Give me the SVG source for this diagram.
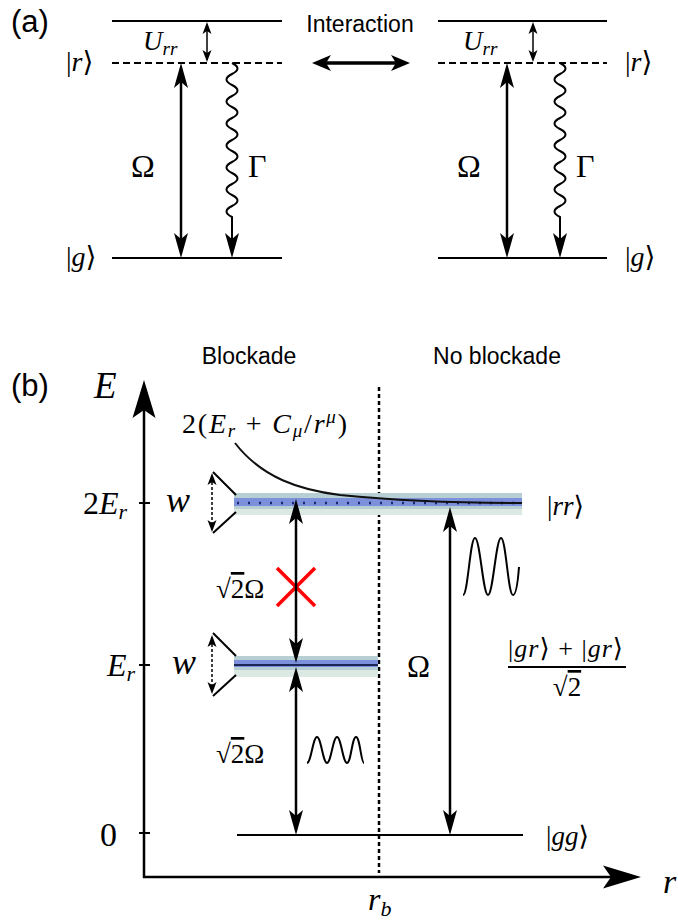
<svg xmlns="http://www.w3.org/2000/svg" width="678" height="922" viewBox="0 0 678 922">
<style>
.lbl{font-family:"Liberation Sans",Arial,sans-serif;fill:#000}
.m{font-family:"Liberation Serif","DejaVu Serif",serif;fill:#000}
.i{font-style:italic}
.lv{stroke:#000;stroke-width:2;fill:none}
.dash{stroke:#000;stroke-width:2;stroke-dasharray:7 4;fill:none}
.ar{stroke:#000;stroke-width:2.5;fill:none}
.thin{stroke:#000;stroke-width:1.5;fill:none}
.wave{stroke:#000;stroke-width:2;fill:none}
.dotar{stroke:#000;stroke-width:1.5;stroke-dasharray:3 2;fill:none}
</style>
<defs>
<marker id="big" markerUnits="userSpaceOnUse" markerWidth="40" markerHeight="26" refX="0" refY="0" orient="auto-start-reverse" overflow="visible">
<path d="M30,0 L-8,-11.5 L0,0 L-8,11.5 Z" fill="#000"/>
</marker>
<marker id="med" markerUnits="userSpaceOnUse" markerWidth="30" markerHeight="16" refX="0" refY="0" orient="auto-start-reverse" overflow="visible">
<path d="M19,0 L-6,-7 L0,0 L-6,7 Z" fill="#000"/>
</marker>
<marker id="thick" markerUnits="userSpaceOnUse" markerWidth="24" markerHeight="18" refX="0" refY="0" orient="auto-start-reverse" overflow="visible">
<path d="M14,0 L-5,-8 L0,0 L-5,8 Z" fill="#000"/>
</marker>
<marker id="sm" markerUnits="userSpaceOnUse" markerWidth="14" markerHeight="10" refX="0" refY="0" orient="auto-start-reverse" overflow="visible">
<path d="M9,0 L-3,-4.5 L0,0 L-3,4.5 Z" fill="#000"/>
</marker>
</defs>

<!-- Part (a) -->
<text class="lbl" x="11" y="32" font-size="31">(a)</text>

<g id="atom-left">
<line class="lv" x1="112" y1="21" x2="282" y2="21"/>
<line class="dash" x1="112" y1="63" x2="282" y2="63"/>
<line class="lv" x1="112" y1="258" x2="282" y2="258"/>
<text class="m" x="66" y="71" font-size="28">|<tspan class="i">r</tspan>⟩</text>
<text class="m" x="66" y="266" font-size="28">|<tspan class="i">g</tspan>⟩</text>
<text class="m" x="143" y="50" font-size="27"><tspan class="i">U</tspan><tspan class="i" font-size="19" dy="5">rr</tspan></text>
<text class="m" x="131" y="177" font-size="32" textLength="32">Ω</text>
<text class="m" x="248" y="177" font-size="32">Γ</text>
</g>

<g id="atom-right">
<line class="lv" x1="438" y1="21" x2="607" y2="21"/>
<line class="dash" x1="438" y1="63" x2="607" y2="63"/>
<line class="lv" x1="438" y1="258" x2="607" y2="258"/>
<text class="m" x="625" y="71" font-size="28">|<tspan class="i">r</tspan>⟩</text>
<text class="m" x="625" y="266" font-size="28">|<tspan class="i">g</tspan>⟩</text>
<text class="m" x="463" y="50" font-size="27"><tspan class="i">U</tspan><tspan class="i" font-size="19" dy="5">rr</tspan></text>
<text class="m" x="457" y="177" font-size="32" textLength="32">Ω</text>
<text class="m" x="576" y="177" font-size="32">Γ</text>
</g>

<g id="interaction">
<text class="lbl" x="360" y="32" text-anchor="middle" font-size="23">Interaction</text>
</g>

<!-- Part (b) -->
<text class="lbl" x="11" y="396" font-size="31">(b)</text>
<g id="region-labels">
<text class="lbl" x="249" y="364" text-anchor="middle" font-size="23">Blockade</text>
<text class="lbl" x="497" y="364" text-anchor="middle" font-size="23">No blockade</text>
</g>

<g id="axes">
<line class="ar" x1="144" y1="878" x2="144" y2="410" marker-end="url(#big)"/>
<line class="ar" x1="143" y1="877" x2="611" y2="877" marker-end="url(#big)"/>
<line class="lv" x1="139" y1="503" x2="150" y2="503"/>
<line class="lv" x1="139" y1="665" x2="150" y2="665"/>
<line class="lv" x1="139" y1="833" x2="150" y2="833"/>
<text class="m i" x="94" y="398" font-size="37">E</text>
<text class="m i" x="663" y="893" font-size="34">r</text>
<text class="m" x="83" y="514" font-size="32">2<tspan class="i">E</tspan><tspan class="i" font-size="22" dy="5">r</tspan></text>
<text class="m" x="107" y="676" font-size="32"><tspan class="i">E</tspan><tspan class="i" font-size="22" dy="5">r</tspan></text>
<text class="m" x="100" y="846" font-size="34">0</text>
</g>

<g id="blockade-radius">
<line stroke="#000" stroke-width="2.5" stroke-dasharray="4 3" x1="379" y1="387" x2="379" y2="873"/>
<text class="m" x="368" y="910" font-size="32"><tspan class="i">r</tspan><tspan class="i" font-size="22" dy="6">b</tspan></text>
</g>

<g id="band-rr">
<rect x="234" y="493" width="288" height="22" fill="#dce9e3"/>
<rect x="234" y="493" width="288" height="16" fill="#b7cfd3"/>
<rect x="234" y="498" width="288" height="8" fill="#7d90dc"/>
<line x1="237" y1="503" x2="522" y2="503" stroke="#1a2470" stroke-width="2.5" stroke-dasharray="2 9"/>
<line class="lv" x1="213" y1="472" x2="236" y2="495"/>
<line class="lv" x1="236" y1="512" x2="213" y2="533"/>
<line class="dotar" x1="212" y1="482" x2="212" y2="523" marker-start="url(#sm)" marker-end="url(#sm)"/>
<text class="m i" x="166" y="512" font-size="36">w</text>
<text class="m" x="547" y="515" font-size="27">|<tspan class="i">rr</tspan>⟩</text>
</g>

<g id="band-gr">
<rect x="234" y="656" width="144" height="21" fill="#dce9e3"/>
<rect x="234" y="656" width="144" height="14" fill="#b7cfd3"/>
<rect x="234" y="660" width="144" height="7" fill="#7d90dc"/>
<line x1="234" y1="665" x2="378" y2="665" stroke="#1c2757" stroke-width="2"/>
<line class="lv" x1="213" y1="633" x2="236" y2="656"/>
<line class="lv" x1="236" y1="675" x2="213" y2="696"/>
<line class="dotar" x1="212" y1="644" x2="212" y2="685" marker-start="url(#sm)" marker-end="url(#sm)"/>
<text class="m i" x="172" y="674" font-size="36">w</text>
</g>

<g id="level-gg">
<line class="lv" x1="237" y1="835" x2="523" y2="835"/>
<text class="m" x="546" y="845" font-size="27" textLength="43">|<tspan class="i">gg</tspan>⟩</text>
</g>

<g id="potential">
<path d="M235,443 C262,478 300,490 340,495 C400,501 470,503 522,503" stroke="#111" stroke-width="2" fill="none"/>
<text class="m" x="182" y="433" font-size="28" textLength="165">2(<tspan class="i">E</tspan><tspan class="i" font-size="19" dy="4">r</tspan><tspan dy="-4"> + </tspan><tspan class="i">C</tspan><tspan class="i" font-size="19" dy="4">μ</tspan><tspan dy="-4">/</tspan><tspan class="i">r</tspan><tspan class="i" font-size="19" dy="-10">μ</tspan><tspan dy="10">)</tspan></text>
</g>

<g id="transition-labels">
<text class="m" x="216" y="598" font-size="27">√<tspan text-decoration="overline">2</tspan>Ω</text>
<text class="m" x="216" y="763" font-size="27">√<tspan text-decoration="overline">2</tspan>Ω</text>
<text class="m" x="407" y="677" font-size="31" fill="#161c4d" textLength="26">Ω</text>
<text class="m" x="508" y="657" font-size="26" textLength="115">|<tspan class="i">gr</tspan>⟩ + |<tspan class="i">gr</tspan>⟩</text>
<line class="lv" x1="508" y1="667" x2="626" y2="667"/>
<text class="m" x="567" y="696" font-size="27" text-anchor="middle">√<tspan text-decoration="overline">2</tspan></text>
</g>

<g id="blocked-mark">
<line x1="277" y1="568" x2="315" y2="606" stroke="#ff0000" stroke-width="3.5"/>
<line x1="315" y1="568" x2="277" y2="606" stroke="#ff0000" stroke-width="3.5"/>
</g>

<g id="connectors">
<!-- (a) -->
<line class="ar" x1="181" y1="82" x2="181" y2="239" marker-start="url(#med)" marker-end="url(#med)"/>
<path class="wave" d="M232,63 q11,5.5 0,11 t0,11 t0,11 t0,11 t0,11 t0,11 t0,11 t0,11 t0,11 t0,11 t0,11 t0,11 t0,11 t0,11 L232,239" marker-end="url(#med)"/>
<line class="thin" x1="207" y1="31" x2="207" y2="53" marker-start="url(#sm)" marker-end="url(#sm)"/>
<line class="ar" x1="507" y1="82" x2="507" y2="239" marker-start="url(#med)" marker-end="url(#med)"/>
<path class="wave" d="M560,63 q11,5.5 0,11 t0,11 t0,11 t0,11 t0,11 t0,11 t0,11 t0,11 t0,11 t0,11 t0,11 t0,11 t0,11 t0,11 L560,239" marker-end="url(#med)"/>
<line class="thin" x1="533" y1="31" x2="533" y2="53" marker-start="url(#sm)" marker-end="url(#sm)"/>
<line stroke="#000" stroke-width="3.5" x1="326" y1="63" x2="396" y2="63" marker-start="url(#thick)" marker-end="url(#thick)"/>
<!-- (b) -->
<line class="ar" x1="296" y1="518" x2="296" y2="644" marker-start="url(#med)" marker-end="url(#med)"/>
<line class="ar" x1="296" y1="686" x2="296" y2="816" marker-start="url(#med)" marker-end="url(#med)"/>
<line class="ar" x1="450" y1="526" x2="450" y2="816" marker-start="url(#med)" marker-end="url(#med)"/>
<path class="wave" d="M307,763 C311,763 313,737 317,737 C321,737 323,763 327,763 C331,763 333,737 337,737 C341,737 343,763 347,763 C351,763 352,737 356,737 C360,737 361,763 364,763"/>
<path class="wave" d="M463,595 C468,595 470,538 475,538 C480,538 483,595 488,595 C493,595 496,538 501,538 C506,538 508,595 513,595 C516,595 518,580 519,567"/>
</g>
</svg>
